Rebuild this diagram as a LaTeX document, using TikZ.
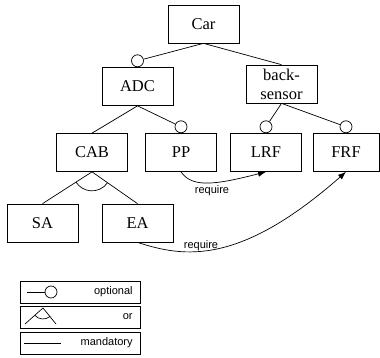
\documentclass[tikz,border=0pt]{standalone}
\usepackage{fontspec}
\setmainfont{Liberation Serif}
\setsansfont{Liberation Sans}
\usetikzlibrary{arrows.meta}
\begin{document}
\begin{tikzpicture}[x=1pt,y=-1pt, line width=0.7pt,
 feat/.style={draw, rectangle, minimum width=71pt, minimum height=38pt, inner sep=0pt, font=\fontsize{16.5}{19}\selectfont, align=center},
 opt/.style={draw, circle, minimum size=12pt, inner sep=0pt, anchor=south},
 lab/.style={font=\sffamily\fontsize{11}{13}\selectfont, inner sep=1pt},
 req/.style={-{Latex[length=8pt,width=6pt]}},
 leg/.style={draw, minimum width=120pt, minimum height=22pt, inner sep=0pt}]
\useasboundingbox (0,0) rectangle (380,358);
% features
\node[feat] (car) at (203.5,24) {Car};
\node[feat] (adc) at (137.5,86.5) {ADC};
\node[feat] (bs) at (281.5,84) {back-\\sensor};
\node[feat] (cab) at (92,152.5) {CAB};
\node[feat] (pp) at (181,152.5) {PP};
\node[feat] (lrf) at (266,152.5) {LRF};
\node[feat, minimum width=66pt] (frf) at (346,152.5) {FRF};
\node[feat] (sa) at (42.5,223) {SA};
\node[feat] (ea) at (137.5,223) {EA};
% optional circles
\node[opt] (oadc) at (adc.north) {};
\node[opt] (opp) at (pp.north) {};
\node[opt] (olrf) at (lrf.north) {};
\node[opt] (ofrf) at (frf.north) {};
% connectors
\draw (car.south) -- (oadc);
\draw (car.south) -- (bs.north);
\draw (adc.south) -- (cab.north);
\draw (adc.south) -- (opp);
\draw (bs.south) -- (olrf);
\draw (bs.south) -- (ofrf);
\draw (cab.south) -- (sa.north);
\draw (cab.south) -- (ea.north);
\draw ([shift={(35.4:19)}]cab.south) arc[start angle=35.4, end angle=147.4, radius=19];
% requires
\draw[req] (pp.south) .. controls (192,188) and (215,185) .. (lrf.south);
\node[lab] (r1) at (212,191) {require};
\draw[req] (ea.south) .. controls (185,258) and (240,265) .. (frf.south);
\node[lab] (r2) at (201,246) {require};
% legend
\node[leg] (l1) at (80,292) {};
\node[leg] (l2) at (80,317) {};
\node[leg] (l3) at (80,343) {};
\node[lab, anchor=east] (t1) at (134,292) {optional};
\node[lab, anchor=east] (t2) at (134,317) {or};
\node[lab, anchor=east] (t3) at (134,343) {mandatory};
\coordinate (a1) at (27,292);
\node[draw, circle, minimum size=12pt, inner sep=0pt] (c1) at (51,292) {};
\draw (a1) -- (c1);
\coordinate (apex) at (43,308);
\coordinate (ll) at (25,324);
\coordinate (lr) at (56,324);
\draw (ll) -- (apex) -- (lr);
\draw ([shift={(50.9:11)}]apex) arc[start angle=50.9, end angle=138.4, radius=11];
\coordinate (m1) at (24,343);
\coordinate (m2) at (61,343);
\draw (m1) -- (m2);
\end{tikzpicture}
\end{document}
